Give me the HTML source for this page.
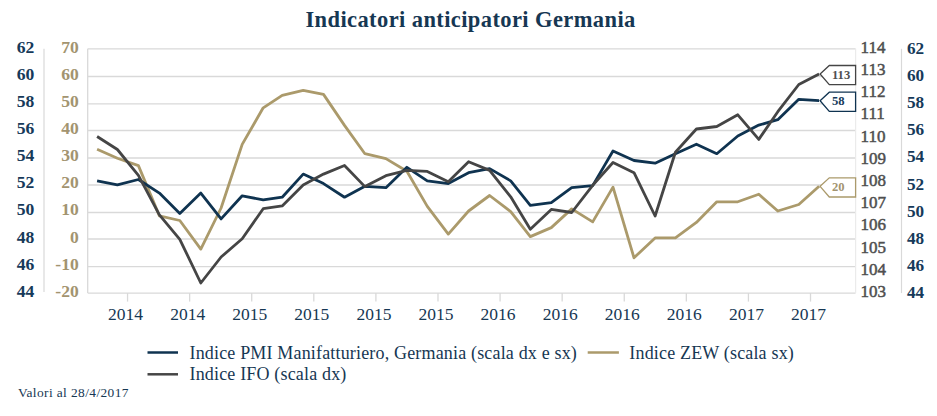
<!DOCTYPE html>
<html><head><meta charset="utf-8"><style>
html,body{margin:0;padding:0;background:#fff;}
body{width:937px;height:416px;overflow:hidden;position:relative;}
svg{position:absolute;left:0;top:0;}
text{font-family:"Liberation Serif",serif;}
</style></head><body>
<svg width="937" height="416" viewBox="0 0 937 416">

<text x="470.6" y="26.8" text-anchor="middle" letter-spacing="0.4" font-size="22.5" font-weight="bold" fill="#163753">Indicatori anticipatori Germania</text>
<line x1="87.7" y1="76.50" x2="855.6" y2="76.50" stroke="#d9d9d9" stroke-width="1.3"/>
<line x1="87.7" y1="103.80" x2="855.6" y2="103.80" stroke="#d9d9d9" stroke-width="1.3"/>
<line x1="87.7" y1="130.50" x2="855.6" y2="130.50" stroke="#d9d9d9" stroke-width="1.3"/>
<line x1="87.7" y1="158.00" x2="855.6" y2="158.00" stroke="#d9d9d9" stroke-width="1.3"/>
<line x1="87.7" y1="185.00" x2="855.6" y2="185.00" stroke="#d9d9d9" stroke-width="1.3"/>
<line x1="87.7" y1="212.50" x2="855.6" y2="212.50" stroke="#d9d9d9" stroke-width="1.3"/>
<line x1="87.7" y1="239.00" x2="855.6" y2="239.00" stroke="#d9d9d9" stroke-width="1.3"/>
<line x1="87.7" y1="266.60" x2="855.6" y2="266.60" stroke="#d9d9d9" stroke-width="1.3"/>
<line x1="87.7" y1="48.8" x2="855.6" y2="48.8" stroke="#d9d9d9" stroke-width="1.3"/>
<line x1="87.7" y1="293.1" x2="855.6" y2="293.1" stroke="#d9d9d9" stroke-width="1.3"/>
<line x1="87.7" y1="48.8" x2="87.7" y2="293.1" stroke="#d9d9d9" stroke-width="1.3"/>
<line x1="855.6" y1="48.8" x2="855.6" y2="293.1" stroke="#ebebeb" stroke-width="1.2"/>
<line x1="44" y1="48.8" x2="44" y2="292.1" stroke="#d9d9d9" stroke-width="1.2"/>
<line x1="901.5" y1="48.8" x2="901.5" y2="293.1" stroke="#d9d9d9" stroke-width="1.2"/>
<line x1="127.55" y1="293.1" x2="127.55" y2="301.6" stroke="#d9d9d9" stroke-width="1.3"/>
<line x1="189.64" y1="293.1" x2="189.64" y2="301.6" stroke="#d9d9d9" stroke-width="1.3"/>
<line x1="251.72" y1="293.1" x2="251.72" y2="301.6" stroke="#d9d9d9" stroke-width="1.3"/>
<line x1="313.81" y1="293.1" x2="313.81" y2="301.6" stroke="#d9d9d9" stroke-width="1.3"/>
<line x1="375.90" y1="293.1" x2="375.90" y2="301.6" stroke="#d9d9d9" stroke-width="1.3"/>
<line x1="437.99" y1="293.1" x2="437.99" y2="301.6" stroke="#d9d9d9" stroke-width="1.3"/>
<line x1="500.07" y1="293.1" x2="500.07" y2="301.6" stroke="#d9d9d9" stroke-width="1.3"/>
<line x1="562.16" y1="293.1" x2="562.16" y2="301.6" stroke="#d9d9d9" stroke-width="1.3"/>
<line x1="624.25" y1="293.1" x2="624.25" y2="301.6" stroke="#d9d9d9" stroke-width="1.3"/>
<line x1="686.33" y1="293.1" x2="686.33" y2="301.6" stroke="#d9d9d9" stroke-width="1.3"/>
<line x1="748.42" y1="293.1" x2="748.42" y2="301.6" stroke="#d9d9d9" stroke-width="1.3"/>
<line x1="810.51" y1="293.1" x2="810.51" y2="301.6" stroke="#d9d9d9" stroke-width="1.3"/>
<text x="125.55" y="320.2" text-anchor="middle" font-size="17.5" fill="#163753">2014</text>
<text x="187.64" y="320.2" text-anchor="middle" font-size="17.5" fill="#163753">2014</text>
<text x="249.72" y="320.2" text-anchor="middle" font-size="17.5" fill="#163753">2015</text>
<text x="311.81" y="320.2" text-anchor="middle" font-size="17.5" fill="#163753">2015</text>
<text x="373.90" y="320.2" text-anchor="middle" font-size="17.5" fill="#163753">2015</text>
<text x="435.99" y="320.2" text-anchor="middle" font-size="17.5" fill="#163753">2015</text>
<text x="498.07" y="320.2" text-anchor="middle" font-size="17.5" fill="#163753">2016</text>
<text x="560.16" y="320.2" text-anchor="middle" font-size="17.5" fill="#163753">2016</text>
<text x="622.25" y="320.2" text-anchor="middle" font-size="17.5" fill="#163753">2016</text>
<text x="684.33" y="320.2" text-anchor="middle" font-size="17.5" fill="#163753">2016</text>
<text x="746.42" y="320.2" text-anchor="middle" font-size="17.5" fill="#163753">2017</text>
<text x="808.51" y="320.2" text-anchor="middle" font-size="17.5" fill="#163753">2017</text>
<text x="34.4" y="52.50" text-anchor="end" font-size="17.6" font-weight="bold" fill="#163a5a">62</text>
<text x="78.8" y="52.50" text-anchor="end" font-size="17.6" font-weight="bold" fill="#a39470">70</text>
<text x="34.4" y="79.64" text-anchor="end" font-size="17.6" font-weight="bold" fill="#163a5a">60</text>
<text x="78.8" y="79.64" text-anchor="end" font-size="17.6" font-weight="bold" fill="#a39470">60</text>
<text x="34.4" y="106.79" text-anchor="end" font-size="17.6" font-weight="bold" fill="#163a5a">58</text>
<text x="78.8" y="106.79" text-anchor="end" font-size="17.6" font-weight="bold" fill="#a39470">50</text>
<text x="34.4" y="133.93" text-anchor="end" font-size="17.6" font-weight="bold" fill="#163a5a">56</text>
<text x="78.8" y="133.93" text-anchor="end" font-size="17.6" font-weight="bold" fill="#a39470">40</text>
<text x="34.4" y="161.08" text-anchor="end" font-size="17.6" font-weight="bold" fill="#163a5a">54</text>
<text x="78.8" y="161.08" text-anchor="end" font-size="17.6" font-weight="bold" fill="#a39470">30</text>
<text x="34.4" y="188.22" text-anchor="end" font-size="17.6" font-weight="bold" fill="#163a5a">52</text>
<text x="78.8" y="188.22" text-anchor="end" font-size="17.6" font-weight="bold" fill="#a39470">20</text>
<text x="34.4" y="215.37" text-anchor="end" font-size="17.6" font-weight="bold" fill="#163a5a">50</text>
<text x="78.8" y="215.37" text-anchor="end" font-size="17.6" font-weight="bold" fill="#a39470">10</text>
<text x="34.4" y="242.51" text-anchor="end" font-size="17.6" font-weight="bold" fill="#163a5a">48</text>
<text x="78.8" y="242.51" text-anchor="end" font-size="17.6" font-weight="bold" fill="#a39470">0</text>
<text x="34.4" y="269.66" text-anchor="end" font-size="17.6" font-weight="bold" fill="#163a5a">46</text>
<text x="78.8" y="269.66" text-anchor="end" font-size="17.6" font-weight="bold" fill="#a39470">-10</text>
<text x="34.4" y="296.80" text-anchor="end" font-size="17.6" font-weight="bold" fill="#163a5a">44</text>
<text x="78.8" y="296.80" text-anchor="end" font-size="17.6" font-weight="bold" fill="#a39470">-20</text>
<text x="860.6" y="52.80" font-size="17" fill="#4f4f4f" stroke="#4f4f4f" stroke-width="0.5">114</text>
<text x="860.6" y="75.01" font-size="17" fill="#4f4f4f" stroke="#4f4f4f" stroke-width="0.5">113</text>
<text x="860.6" y="97.22" font-size="17" fill="#4f4f4f" stroke="#4f4f4f" stroke-width="0.5">112</text>
<text x="860.6" y="119.43" font-size="17" fill="#4f4f4f" stroke="#4f4f4f" stroke-width="0.5">111</text>
<text x="860.6" y="141.64" font-size="17" fill="#4f4f4f" stroke="#4f4f4f" stroke-width="0.5">110</text>
<text x="860.6" y="163.85" font-size="17" fill="#4f4f4f" stroke="#4f4f4f" stroke-width="0.5">109</text>
<text x="860.6" y="186.05" font-size="17" fill="#4f4f4f" stroke="#4f4f4f" stroke-width="0.5">108</text>
<text x="860.6" y="208.26" font-size="17" fill="#4f4f4f" stroke="#4f4f4f" stroke-width="0.5">107</text>
<text x="860.6" y="230.47" font-size="17" fill="#4f4f4f" stroke="#4f4f4f" stroke-width="0.5">106</text>
<text x="860.6" y="252.68" font-size="17" fill="#4f4f4f" stroke="#4f4f4f" stroke-width="0.5">105</text>
<text x="860.6" y="274.89" font-size="17" fill="#4f4f4f" stroke="#4f4f4f" stroke-width="0.5">104</text>
<text x="860.6" y="297.10" font-size="17" fill="#4f4f4f" stroke="#4f4f4f" stroke-width="0.5">103</text>
<text x="907" y="53.80" font-size="17.2" font-weight="bold" fill="#163a5a">62</text>
<text x="907" y="80.94" font-size="17.2" font-weight="bold" fill="#163a5a">60</text>
<text x="907" y="108.09" font-size="17.2" font-weight="bold" fill="#163a5a">58</text>
<text x="907" y="135.23" font-size="17.2" font-weight="bold" fill="#163a5a">56</text>
<text x="907" y="162.38" font-size="17.2" font-weight="bold" fill="#163a5a">54</text>
<text x="907" y="189.52" font-size="17.2" font-weight="bold" fill="#163a5a">52</text>
<text x="907" y="216.67" font-size="17.2" font-weight="bold" fill="#163a5a">50</text>
<text x="907" y="243.81" font-size="17.2" font-weight="bold" fill="#163a5a">48</text>
<text x="907" y="270.96" font-size="17.2" font-weight="bold" fill="#163a5a">46</text>
<text x="907" y="298.10" font-size="17.2" font-weight="bold" fill="#163a5a">44</text>
<polyline points="97.1,149.3 117.4,158.3 138.4,165.6 159.4,215.9 179.8,220.5 200.8,249.1 221.1,208.0 242.2,144.4 263.2,107.8 282.2,95.3 303.2,90.4 323.5,94.4 344.5,125.4 364.9,153.7 385.9,158.6 406.9,171.3 427.3,206.4 448.3,234.1 468.6,211.0 489.6,195.5 510.7,211.6 530.3,236.6 551.3,227.6 571.7,208.9 592.7,221.9 613.0,187.1 634.0,257.8 655.1,237.9 675.4,237.9 696.4,222.4 716.8,201.8 737.8,201.8 758.8,194.2 777.8,211.0 798.8,204.5 819.1,186.3" fill="none" stroke="#ab9a6b" stroke-width="2.8" stroke-linejoin="round"/>
<polyline points="97.1,180.9 117.4,184.9 138.4,179.5 159.4,193.1 179.8,213.5 200.8,193.1 221.1,218.9 242.2,195.8 263.2,199.9 282.2,197.2 303.2,174.1 323.5,183.6 344.5,197.2 364.9,186.3 385.9,187.7 406.9,167.3 427.3,180.9 448.3,183.6 468.6,172.7 489.6,168.6 510.7,180.9 530.3,205.3 551.3,202.6 571.7,187.7 592.7,185.6 613.0,151.0 634.0,160.5 655.1,163.2 675.4,153.7 696.4,144.2 716.8,153.7 737.8,136.0 758.8,125.1 777.8,119.7 798.8,99.3 819.1,100.7" fill="none" stroke="#0f3350" stroke-width="2.8" stroke-linejoin="round"/>
<polyline points="97.1,136.5 117.4,149.5 138.4,175.4 159.4,214.8 179.8,239.3 200.8,283.0 221.1,257.0 242.2,238.8 263.2,208.7 282.2,205.9 303.2,184.9 323.5,174.1 344.5,165.5 364.9,186.6 385.9,175.7 406.9,170.3 427.3,171.4 448.3,181.8 468.6,161.7 489.6,170.4 510.7,196.8 530.3,229.2 551.3,209.4 571.7,212.5 592.7,185.3 613.0,162.5 634.0,172.7 655.1,216.0 675.4,152.3 696.4,129.0 716.8,126.5 737.8,114.8 758.8,139.4 777.8,111.7 798.8,84.5 819.1,74.0" fill="none" stroke="#454545" stroke-width="2.8" stroke-linejoin="round"/>
<path d="M820.1,74.0 L829.3,65.5 L855.6,65.5 L855.6,84.7 L829.3,84.7 Z" fill="#fff" stroke="#454545" stroke-width="1.3"/>
<text x="832.0" y="78.5" font-size="12.6" font-weight="bold" fill="#4f4f4f">113</text>
<path d="M820.1,100.7 L829.3,92.2 L855.6,92.2 L855.6,111.4 L829.3,111.4 Z" fill="#fff" stroke="#0f3350" stroke-width="1.3"/>
<text x="832.0" y="105.2" font-size="12.6" font-weight="bold" fill="#163a5a">58</text>
<path d="M820.1,186.3 L829.3,177.8 L855.6,177.8 L855.6,197.0 L829.3,197.0 Z" fill="#fff" stroke="#ab9a6b" stroke-width="1.3"/>
<text x="832.0" y="190.8" font-size="12.6" font-weight="bold" fill="#a39470">20</text>
<line x1="147.5" y1="352.5" x2="178" y2="352.5" stroke="#0f3350" stroke-width="2.5"/>
<text x="189.5" y="359.3" font-size="18" letter-spacing="0.17" fill="#163753">Indice PMI Manifatturiero, Germania (scala dx e sx)</text>
<line x1="587.7" y1="352.5" x2="618.9" y2="352.5" stroke="#ab9a6b" stroke-width="2.5"/>
<text x="629.3" y="359.3" font-size="18" letter-spacing="0.17" fill="#163753">Indice ZEW (scala sx)</text>
<line x1="147.5" y1="374.3" x2="178" y2="374.3" stroke="#454545" stroke-width="2.5"/>
<text x="189.5" y="379.7" font-size="18" letter-spacing="0.17" fill="#163753">Indice IFO (scala dx)</text>
<text x="17.9" y="396.9" font-size="13.4" letter-spacing="0.4" fill="#163753">Valori al 28/4/2017</text>
</svg></body></html>
